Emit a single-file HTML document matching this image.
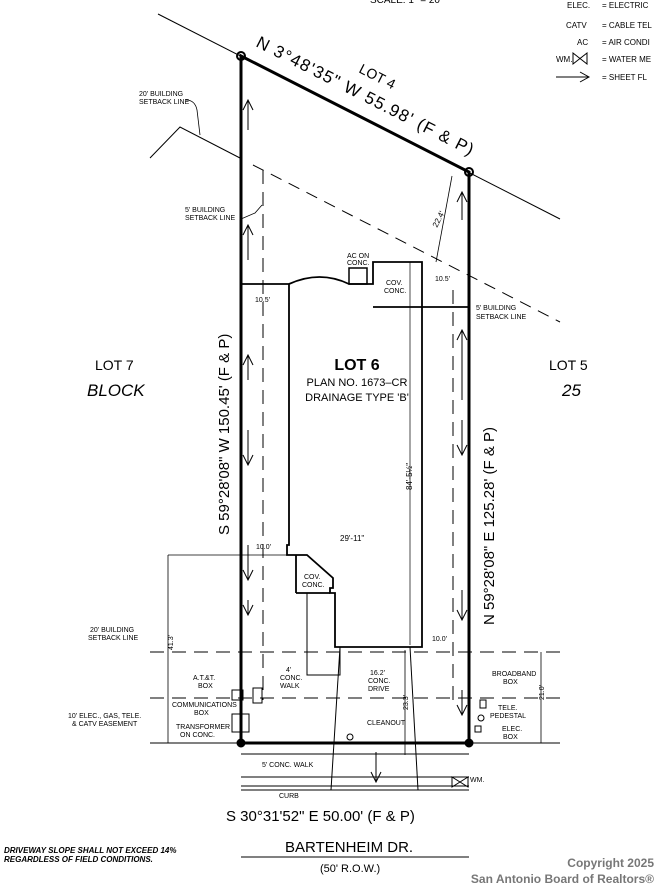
<!DOCTYPE html>
<html><head><meta charset="utf-8"><style>
html,body{margin:0;padding:0;background:#fff}
svg{display:block}
text{font-family:"Liberation Sans",sans-serif;fill:#000}
.s{font-size:7px}
</style></head><body>
<svg width="656" height="887" viewBox="0 0 656 887" xmlns="http://www.w3.org/2000/svg">
<g stroke="#000" fill="none">
<line x1="158" y1="14" x2="560" y2="219" stroke-width="1"/>
<line x1="150" y1="743" x2="560" y2="743" stroke-width="1"/>
<polyline points="241,743 241,56 469,172 469,743 241,743" stroke-width="3"/>
<circle cx="241" cy="56" r="4" stroke-width="2"/><circle cx="469" cy="172" r="4" stroke-width="2"/>
<circle cx="241" cy="743" r="4" fill="#000"/><circle cx="469" cy="743" r="4" fill="#000"/>
<polyline points="150,158 180,127 240,158" stroke-width="1"/>
<line x1="253" y1="165" x2="560" y2="322" stroke-width="1" stroke-dasharray="12,8"/>
<path d="M200,135 L197,110 Q195,100 186,100" stroke-width="0.8"/>
<line x1="263" y1="170" x2="263" y2="700" stroke-width="1" stroke-dasharray="14,8"/>
<line x1="453" y1="290" x2="453" y2="700" stroke-width="1" stroke-dasharray="14,8"/>
<path d="M241,219 L255,213 L262,205" stroke-width="0.8"/>
<line x1="150" y1="652" x2="560" y2="652" stroke-width="1" stroke-dasharray="14,8"/>
<line x1="150" y1="698" x2="560" y2="698" stroke-width="1" stroke-dasharray="14,8"/>
<path d="M241,284 L289,284 Q320,270 349,284 L373,284 L373,262 L422,262 L422,647 L335,647 L335,593 L330,593 L330,588 L333,588 L333,578 L307,555 L287,555 L287,545 L289,545 L289,284" stroke-width="1.8"/>
<rect x="349" y="268" width="18" height="16" stroke-width="1.5"/>
<line x1="373" y1="307" x2="469" y2="307" stroke-width="1.8"/>
<line x1="296" y1="555" x2="296" y2="593" stroke-width="1.8"/>
<line x1="296" y1="593" x2="330" y2="593" stroke-width="1.8"/>
<polyline points="307,593 307,675 340,675 340,647" stroke-width="1"/>
<line x1="410" y1="262" x2="410" y2="645" stroke-width="0.7"/>
<line x1="340" y1="647" x2="331" y2="790" stroke-width="1"/>
<line x1="410" y1="647" x2="418" y2="790" stroke-width="1"/>
<line x1="241" y1="754" x2="469" y2="754" stroke-width="1"/>
<line x1="241" y1="777" x2="469" y2="777" stroke-width="1"/>
<line x1="241" y1="786" x2="469" y2="786" stroke-width="1"/>
<line x1="241" y1="790" x2="469" y2="790" stroke-width="1"/>
<path d="M452,777 L452,787 L468,777 L468,787 Z" stroke-width="1"/>
<line x1="168" y1="555" x2="168" y2="743" stroke-width="0.8"/>
<line x1="168" y1="555" x2="287" y2="555" stroke-width="0.8"/>
<line x1="541" y1="652" x2="541" y2="743" stroke-width="0.8"/>
<line x1="436" y1="262" x2="452" y2="176" stroke-width="0.8"/>
<line x1="405" y1="650" x2="405" y2="755" stroke-width="0.8"/>
<rect x="232" y="690" width="11" height="10" stroke-width="1"/>
<rect x="253" y="688" width="9" height="15" stroke-width="1"/>
<rect x="232" y="714" width="17" height="18" stroke-width="1"/>
<rect x="480" y="700" width="6" height="8" stroke-width="1"/>
<circle cx="481" cy="718" r="3" stroke-width="1"/>
<rect x="475" y="726" width="6" height="6" stroke-width="1"/>
<circle cx="350" cy="737" r="3" stroke-width="1"/>
<g stroke-width="1">
<path d="M248,130 V100 M243,110 L248,100 L253,110"/>
<path d="M248,260 V225 M243,235 L248,225 L253,235"/>
<path d="M248,380 V355 M243,365 L248,355 L253,365"/>
<path d="M248,430 V465 M243,455 L248,465 L253,455"/>
<path d="M248,545 V580 M243,570 L248,580 L253,570"/>
<path d="M248,600 V615 M243,605 L248,615 L253,605"/>
<path d="M462,220 V192 M457,202 L462,192 L467,202"/>
<path d="M462,400 V330 M457,340 L462,330 L467,340"/>
<path d="M462,420 V455 M457,445 L462,455 L467,445"/>
<path d="M462,590 V620 M457,610 L462,620 L467,610"/>
<path d="M462,690 V715 M457,705 L462,715 L467,705"/>
<path d="M376,752 V782 M371,772 L376,782 L381,772"/>
<path d="M556,77 H589 M580,72 L589,77 L580,82"/>
</g>
</g>
<text x="567" y="8" font-size="8">ELEC.</text><text x="602" y="8" font-size="8">= ELECTRIC</text>
<text x="566" y="28" font-size="8">CATV</text><text x="602" y="28" font-size="8">= CABLE TEL</text>
<text x="577" y="45" font-size="8">AC</text><text x="602" y="45" font-size="8">= AIR CONDI</text>
<text x="556" y="62" font-size="8">WM.</text><path d="M573,53 L573,64 L587,53 L587,64 Z" stroke="#000" fill="none"/>
<text x="602" y="62" font-size="8">= WATER ME</text>
<text x="602" y="80" font-size="8">= SHEET FL</text>
<text x="370" y="3" font-size="10">SCALE: 1" = 20'</text>
<text transform="translate(255,46) rotate(27)" font-size="17" letter-spacing="1.2">N 3°48'35" W 55.98' (F &amp; P)</text>
<text transform="translate(358,72) rotate(27)" font-size="14">LOT 4</text>
<text x="139" y="96" class="s">20' BUILDING</text><text x="139" y="104" class="s">SETBACK LINE</text>
<text x="185" y="212" class="s">5' BUILDING</text><text x="185" y="220" class="s">SETBACK LINE</text>
<text x="476" y="310" class="s">5' BUILDING</text><text x="476" y="319" class="s">SETBACK LINE</text>
<text x="347" y="258" class="s">AC ON</text><text x="347" y="265" class="s">CONC.</text>
<text x="386" y="285" class="s">COV.</text><text x="384" y="293" class="s">CONC.</text>
<text x="255" y="302" class="s">10.5'</text><text x="435" y="281" class="s">10.5'</text>
<text x="357" y="370" font-size="16" text-anchor="middle" font-weight="bold">LOT 6</text>
<text x="357" y="386" font-size="11" text-anchor="middle">PLAN NO. 1673–CR</text>
<text x="357" y="401" font-size="11" text-anchor="middle">DRAINAGE TYPE 'B'</text>
<text x="95" y="370" font-size="14">LOT 7</text>
<text x="87" y="396" font-size="17" font-style="italic" font-family="Liberation Serif,serif">BLOCK</text>
<text x="549" y="370" font-size="14">LOT 5</text>
<text x="562" y="396" font-size="17" font-style="italic" font-family="Liberation Serif,serif">25</text>
<text transform="translate(229,535) rotate(-90)" font-size="15">S 59°28'08" W 150.45' (F &amp; P)</text>
<text transform="translate(494,625) rotate(-90)" font-size="15">N 59°28'08" E 125.28' (F &amp; P)</text>
<text transform="translate(412,490) rotate(-90)" font-size="8">84'-5½"</text>
<text transform="translate(437,228) rotate(-63)" font-size="8">22.4'</text>
<text x="340" y="541" font-size="8">29'-11"</text>
<text x="256" y="549" class="s">10.0'</text><text x="432" y="641" class="s">10.0'</text>
<text x="304" y="579" class="s">COV.</text><text x="302" y="587" class="s">CONC.</text>
<text x="286" y="672" class="s">4'</text><text x="280" y="680" class="s">CONC.</text><text x="280" y="688" class="s">WALK</text>
<text x="370" y="675" class="s">16.2'</text><text x="368" y="683" class="s">CONC.</text><text x="368" y="691" class="s">DRIVE</text>
<text transform="translate(173,650) rotate(-90)" class="s">41.3'</text>
<text transform="translate(408,710) rotate(-90)" class="s">23.3'</text>
<text transform="translate(544,700) rotate(-90)" class="s">21.0'</text>
<text x="90" y="632" class="s">20' BUILDING</text><text x="88" y="640" class="s">SETBACK LINE</text>
<text x="68" y="718" class="s">10' ELEC., GAS, TELE.</text><text x="72" y="726" class="s">&amp; CATV EASEMENT</text>
<text x="193" y="680" class="s">A.T.&amp;T.</text><text x="198" y="688" class="s">BOX</text>
<text x="172" y="707" class="s">COMMUNICATIONS</text><text x="194" y="715" class="s">BOX</text>
<text x="176" y="729" class="s">TRANSFORMER</text><text x="180" y="737" class="s">ON CONC.</text>
<text x="492" y="676" class="s">BROADBAND</text><text x="503" y="684" class="s">BOX</text>
<text x="498" y="710" class="s">TELE.</text><text x="490" y="718" class="s">PEDESTAL</text>
<text x="502" y="731" class="s">ELEC.</text><text x="503" y="739" class="s">BOX</text>
<text x="367" y="725" class="s">CLEANOUT</text>
<text x="262" y="767" class="s">5' CONC. WALK</text>
<text x="279" y="798" class="s">CURB</text>
<text x="470" y="782" class="s">WM.</text>
<text x="226" y="821" font-size="15">S 30°31'52" E 50.00' (F &amp; P)</text>
<text x="285" y="852" font-size="15">BARTENHEIM DR.</text>
<line x1="241" y1="857" x2="469" y2="857" stroke="#000" stroke-width="1"/>
<text x="320" y="872" font-size="11">(50' R.O.W.)</text>
<text x="4" y="853" font-size="8" font-weight="bold" font-style="italic" font-family="Liberation Serif,serif">DRIVEWAY SLOPE SHALL NOT EXCEED 14%</text>
<text x="4" y="862" font-size="8" font-weight="bold" font-style="italic" font-family="Liberation Serif,serif">REGARDLESS OF FIELD CONDITIONS.</text>
<text x="654" y="867" font-size="12" font-weight="bold" text-anchor="end" style="fill:#777">Copyright 2025</text>
<text x="654" y="883" font-size="12" font-weight="bold" text-anchor="end" style="fill:#777">San Antonio Board of Realtors®</text>
</svg>
</body></html>
